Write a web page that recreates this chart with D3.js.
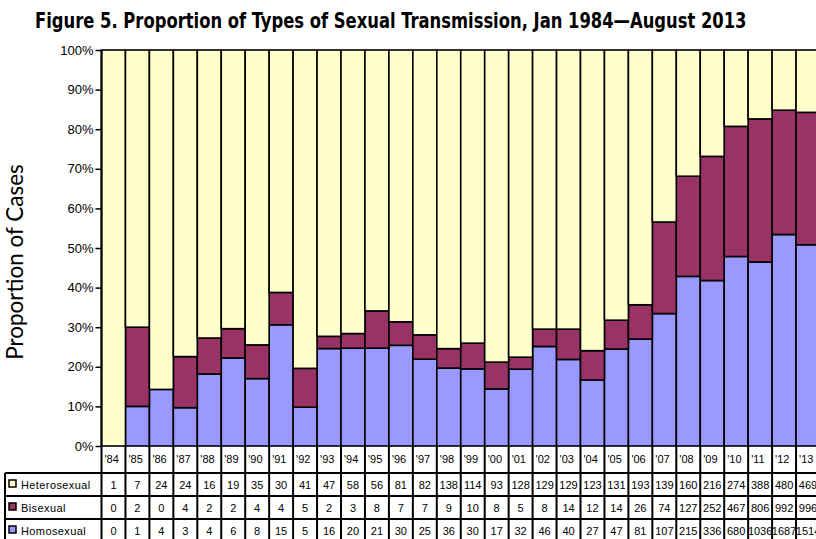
<!DOCTYPE html>
<html>
<head>
<meta charset="utf-8">
<script src="https://cdn.jsdelivr.net/npm/d3@7"></script>
<style>
  body { margin: 0; background: #fff; }
  svg { display: block; }
</style>
</head>
<body>
<div id="chart"></div>
<script>
const years = ["'84","'85","'86","'87","'88","'89","'90","'91","'92","'93","'94","'95","'96",
  "'97","'98","'99","'00","'01","'02","'03","'04","'05","'06","'07","'08","'09","'10","'11","'12","'13"];
const heterosexual = [1,7,24,24,16,19,35,30,41,47,58,56,81,82,138,114,93,128,129,129,123,131,193,139,160,216,274,388,480,469];
const bisexual = [0,2,0,4,2,2,4,4,5,2,3,8,7,7,9,10,8,5,8,14,12,14,26,74,127,252,467,806,992,996];
const homosexual = [0,1,4,3,4,6,8,15,5,16,20,21,30,25,36,30,17,32,46,40,27,47,81,107,215,336,680,1036,1687,1514];
const yTicks = [0,0.1,0.2,0.3,0.4,0.5,0.6,0.7,0.8,0.9,1];

const series = [
  {key: "homo", label: "Homosexual", values: homosexual, color: "#9999ff"},
  {key: "bi", label: "Bisexual", values: bisexual, color: "#993366"},
  {key: "het", label: "Heterosexual", values: heterosexual, color: "#ffffcc"}
];

const w = 816, h = 539;
const svg = d3.select("#chart").append("svg").attr("width", w).attr("height", h);

const plotLeft = 101.5, plotRight = 820, plotTop = 50, plotBottom = 446;
const x = d3.scaleBand().domain(years).range([plotLeft, plotRight]).padding(0);
const y = d3.scaleLinear().domain([0, 1]).range([plotBottom, plotTop]);

// title - squeeze it horizontally to the width it has in the figure
const title = svg.append("text")
  .attr("x", 0).attr("y", 0)
  .attr("font-family", "'DejaVu Sans Condensed', 'Liberation Sans Narrow', Arial, sans-serif")
  .attr("font-stretch", "condensed")
  .attr("font-weight", "bold")
  .attr("font-size", 20.5)
  .text("Figure 5. Proportion of Types of Sexual Transmission, Jan 1984\u2014August 2013");
const tw = title.node().getComputedTextLength();
title.attr("transform", `translate(35,28) scale(${Math.min(1, 712 / tw)},1)`);

// y label
svg.append("text")
  .attr("transform", "translate(23,262) rotate(-90)")
  .attr("text-anchor", "middle")
  .attr("font-family", "Lato, 'Open Sans', sans-serif")
  .attr("font-size", 22.5)
  .text("Proportion of Cases");

// stacked data
const rows = years.map((yr, i) => {
  const r = {year: yr};
  series.forEach(s => r[s.key] = s.values[i]);
  return r;
});
const stack = d3.stack().keys(series.map(s => s.key)).offset(d3.stackOffsetExpand);
const stacked = stack(rows);

stacked.forEach((layer, li) => {
  svg.append("g")
    .selectAll("rect")
    .data(layer)
    .enter()
    .append("rect")
    .attr("x", d => x(d.data.year))
    .attr("width", x.bandwidth())
    .attr("y", d => y(d[1]))
    .attr("height", d => Math.max(0, y(d[0]) - y(d[1])))
    .attr("fill", series[li].color)
    .attr("stroke", "#000")
    .attr("stroke-width", 1.6);
});

// y axis
const yAxis = d3.axisLeft(y).tickValues(yTicks).tickFormat(d3.format(".0%")).tickSize(6).tickPadding(2);
const ga = svg.append("g").attr("transform", `translate(${plotLeft},0)`).call(yAxis);
ga.select(".domain").attr("stroke-width", 2).attr("d", `M0,${plotTop}V${plotBottom}`);
ga.selectAll(".tick line").attr("stroke-width", 1.5);
ga.selectAll(".tick text")
  .attr("font-family", "Arial, 'Liberation Sans', sans-serif")
  .attr("font-size", 13)
  .attr("fill", "#000");

// data table
const rowTop = [446, 473, 496, 519, 542];
const tableLeft = 5;
const tbl = svg.append("g");
const tfont = "Arial, 'Liberation Sans', sans-serif";

// year labels
tbl.selectAll("text.yr")
  .data(years)
  .enter()
  .append("text")
  .attr("class", "yr")
  .attr("x", d => x(d) + 3)
  .attr("y", 463)
  .attr("font-family", tfont)
  .attr("font-size", 11)
  .text(d => d);

const tableSeries = [series[2], series[1], series[0]];
tableSeries.forEach((s, ri) => {
  const cy = (rowTop[ri + 1] + rowTop[ri + 2]) / 2;
  tbl.append("rect")
    .attr("x", 9).attr("y", cy - 4.5)
    .attr("width", 7).attr("height", 7)
    .attr("fill", s.color).attr("stroke", "#000").attr("stroke-width", 1.5);
  tbl.append("text")
    .attr("x", 21).attr("y", cy + 4)
    .attr("font-family", tfont)
    .attr("font-size", 11)
    .attr("letter-spacing", 0.4)
    .text(s.label);
  tbl.selectAll(null)
    .data(s.values)
    .enter()
    .append("text")
    .attr("x", (d, i) => x(years[i]) + x.bandwidth() / 2)
    .attr("y", cy + 4)
    .attr("text-anchor", "middle")
    .attr("font-family", tfont)
    .attr("font-size", 11)
    .text(d => d);
});

// table lines
rowTop.slice(1).forEach(ry => {
  tbl.append("line")
    .attr("x1", tableLeft).attr("x2", plotRight)
    .attr("y1", ry).attr("y2", ry)
    .attr("stroke", "#000").attr("stroke-width", 2);
});
tbl.append("line")
  .attr("x1", tableLeft).attr("x2", tableLeft)
  .attr("y1", rowTop[1]).attr("y2", h)
  .attr("stroke", "#000").attr("stroke-width", 2);
tbl.append("line")
  .attr("x1", plotLeft).attr("x2", plotLeft)
  .attr("y1", plotBottom).attr("y2", h)
  .attr("stroke", "#000").attr("stroke-width", 2);
tbl.selectAll("line.col")
  .data(years)
  .enter()
  .append("line")
  .attr("class", "col")
  .attr("x1", d => x(d) + x.bandwidth()).attr("x2", d => x(d) + x.bandwidth())
  .attr("y1", plotBottom).attr("y2", h)
  .attr("stroke", "#000").attr("stroke-width", 2);
</script>
</body>
</html>
